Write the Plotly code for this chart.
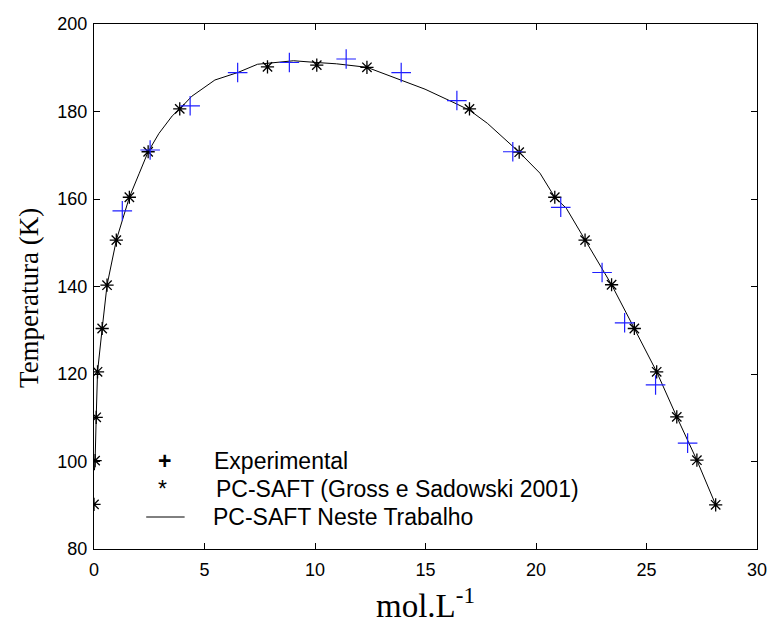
import plotly.graph_objects as go

# Experimental data (blue +)
exp_x = [1.28, 2.54, 4.35, 6.50, 8.84, 11.41, 13.90, 16.42, 18.95, 21.12, 22.99, 24.01, 25.41, 26.86]
exp_y = [157.3, 171.2, 181.3, 188.9, 191.2, 192.0, 188.9, 182.5, 170.8, 158.1, 143.2, 131.7, 117.5, 104.2]

# PC-SAFT (Gross e Sadowski 2001) (black *)
gs_x = [0.00, 0.05, 0.10, 0.16, 0.37, 0.59, 1.01, 1.60, 2.45, 3.88, 7.85, 10.08, 12.35,
        16.99, 19.24, 20.85, 22.22, 23.42, 24.45, 25.46, 26.37, 27.28, 28.13]
gs_y = [90.2, 100.2, 110.1, 120.5, 130.4, 140.3, 150.6, 160.4, 170.8, 180.6, 190.2, 190.6, 190.1,
        180.6, 170.7, 160.4, 150.6, 140.4, 130.4, 120.5, 110.2, 100.3, 90.1]

# PC-SAFT Neste Trabalho (black line)
line_x = [0.02, 0.05, 0.10, 0.16, 0.37, 0.59, 1.01, 1.60, 2.05, 2.45, 2.94, 3.54, 3.88, 4.43,
          5.47, 6.50, 7.40, 9.03, 10.08, 10.97, 12.35, 13.91, 14.98, 16.42, 16.99, 17.80,
          18.55, 19.24, 20.18, 20.85, 21.37, 22.22, 23.42, 24.45, 25.46, 26.37, 27.28, 28.13]
line_y = [98.0, 100.2, 110.1, 120.5, 130.4, 140.3, 150.6, 160.4, 165.9, 170.8, 175.0, 179.0, 180.6, 183.5,
          187.2, 188.9, 190.8, 191.6, 191.2, 190.9, 190.1, 187.2, 185.1, 181.7, 180.3, 177.3,
          173.9, 170.7, 165.9, 160.4, 157.9, 150.6, 140.4, 130.4, 120.5, 110.2, 100.3, 90.1]

x_ticks = [0, 5, 10, 15, 20, 25, 30]
y_ticks = [80, 100, 120, 140, 160, 180, 200]

legend_labels = ["Experimental", "PC-SAFT (Gross e Sadowski 2001)", "PC-SAFT Neste Trabalho"]

fig = go.Figure()
fig.add_trace(go.Scatter(x=line_x, y=line_y, mode="lines",
                         line=dict(color="black", width=1), showlegend=False))
fig.add_trace(go.Scatter(x=gs_x, y=gs_y, mode="markers",
                         marker=dict(symbol="asterisk-open", size=11, color="black",
                                     line=dict(color="black", width=1.3)),
                         showlegend=False))
fig.add_trace(go.Scatter(x=exp_x, y=exp_y, mode="markers",
                         marker=dict(symbol="cross-thin-open", size=14, color="#1f1fff",
                                     line=dict(color="#1f1fff", width=1.2)),
                         showlegend=False))

W, H = 779, 625
L, R, T, B = 94, 12, 24, 76
pw, ph = W - L - R, H - T - B

def px(x):
    return (x - L) / pw

def py(y):
    return (H - B - y) / ph

tick_font = dict(family="Liberation Sans, Arial", size=18, color="black")
axis_common = dict(showline=True, linecolor="black", linewidth=1, mirror="ticks",
                   ticks="inside", ticklen=6, tickwidth=1, tickcolor="black",
                   showgrid=False, zeroline=False, tickfont=tick_font)

fig.update_layout(
    width=W, height=H,
    margin=dict(l=L, r=R, t=T, b=B),
    paper_bgcolor="white", plot_bgcolor="white",
    xaxis=dict(range=[0, 30], tickvals=x_ticks, ticklabelstandoff=4, **axis_common),
    yaxis=dict(range=[80, 200], tickvals=y_ticks, ticklabelstandoff=2, **axis_common),
)

leg_font = dict(family="Liberation Sans, Arial", size=23, color="black")
annots = [
    dict(text="mol.L<sup>-1</sup>", x=px(430), y=py(603), xref="paper", yref="paper",
         showarrow=False, xanchor="center", yanchor="middle",
         font=dict(family="Liberation Serif, Times New Roman", size=33, color="black")),
    dict(text="Temperatura (K)", x=px(28), y=py(298), xref="paper", yref="paper",
         showarrow=False, xanchor="center", yanchor="middle", textangle=-90,
         font=dict(family="Liberation Serif, Times New Roman", size=27, color="black")),
    dict(text="<b>+</b>", x=px(166), y=py(461), xref="paper", yref="paper",
         showarrow=False, xanchor="center", yanchor="middle", font=leg_font),
    dict(text="*", x=px(164), y=py(489), xref="paper", yref="paper",
         showarrow=False, xanchor="center", yanchor="middle", font=leg_font),
]
for lab, xx, yy in zip(legend_labels, [214, 216, 213], [461, 489, 517]):
    annots.append(dict(text=lab, x=px(xx), y=py(yy), xref="paper", yref="paper",
                       showarrow=False, xanchor="left", yanchor="middle", font=leg_font))
fig.update_layout(annotations=annots)

fig.add_shape(type="line", xref="paper", yref="paper",
              x0=px(147), x1=px(186), y0=py(517), y1=py(517),
              line=dict(color="black", width=1))

fig.write_html("out.html", config={"displayModeBar": False},
               post_script="document.body.style.margin='0';document.body.style.overflow='hidden';")
